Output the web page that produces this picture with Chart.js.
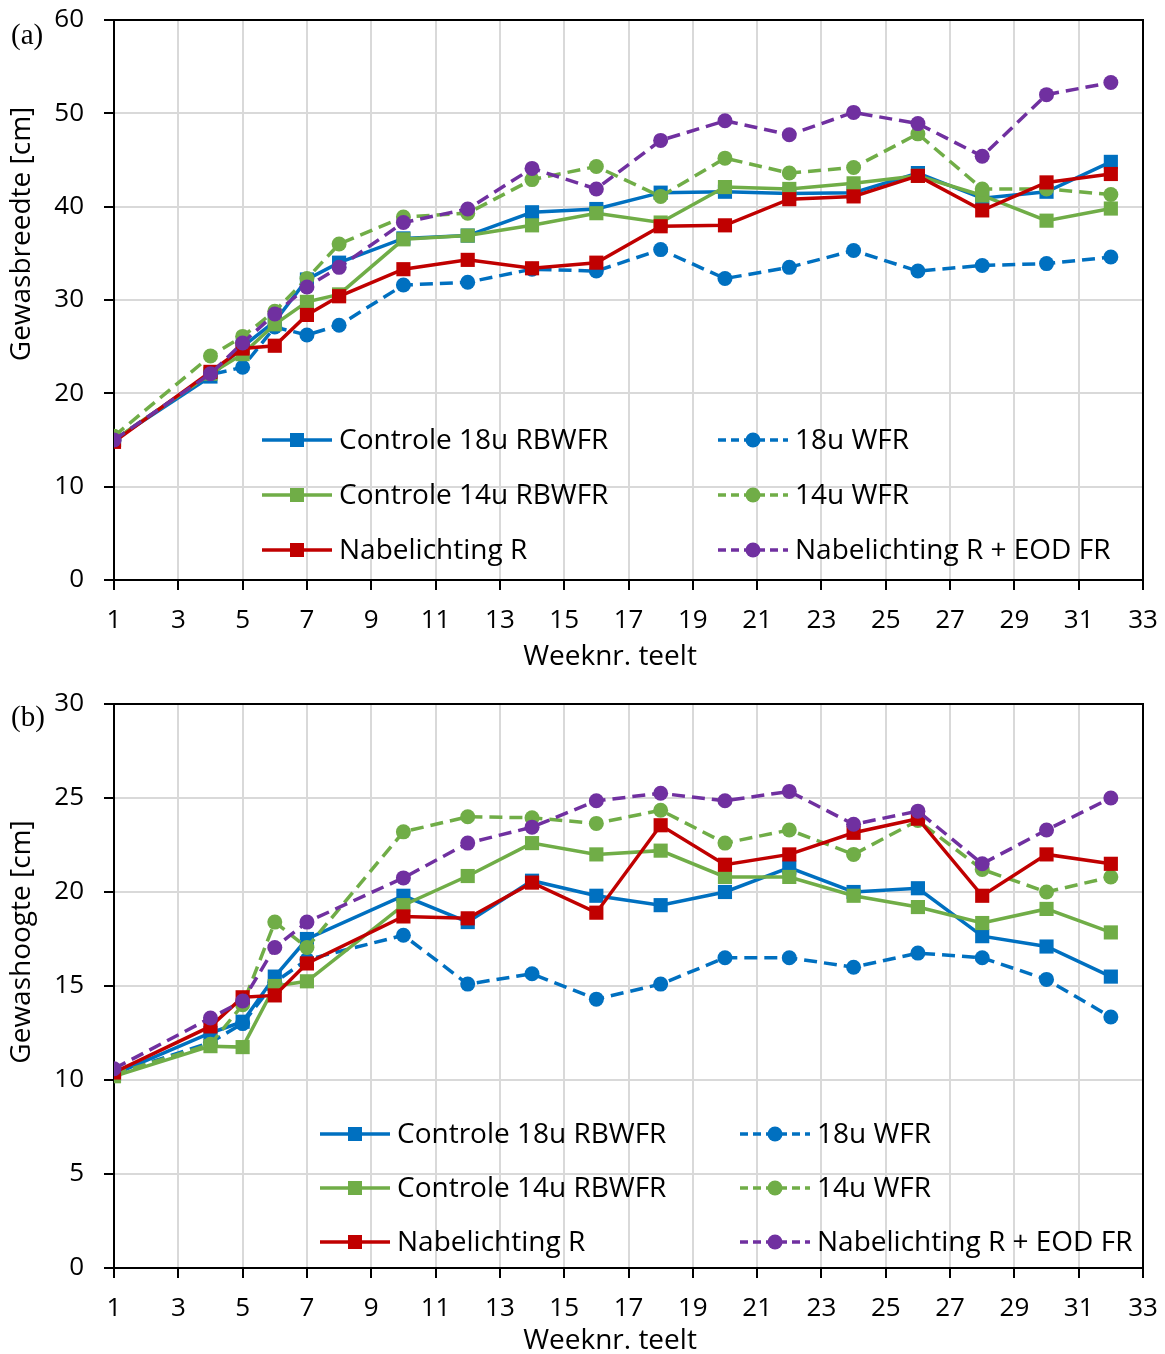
<!DOCTYPE html>
<html>
<head>
<meta charset="utf-8">
<script src="https://cdn.jsdelivr.net/npm/chart.js@4.4.1/dist/chart.umd.min.js"></script>
<style>
  html, body { margin: 0; padding: 0; background: #fff; overflow: hidden; }
  canvas { position: absolute; left: 0; }
  #chartA { top: 0; }
  #chartB { top: 680px; }
</style>
</head>
<body>
<canvas id="chartA" width="1165" height="680"></canvas>
<canvas id="chartB" width="1165" height="674"></canvas>
<script>
// Reeksen (volgorde zoals in de legenda)
const seriesNames = ['Controle 18u RBWFR', '18u WFR', 'Controle 14u RBWFR', '14u WFR', 'Nabelichting R', 'Nabelichting R + EOD FR'];

// (a) Gewasbreedte
const weeksA = [1, 4, 5, 6, 7, 8, 10, 12, 14, 16, 18, 20, 22, 24, 26, 28, 30, 32];
const ctrl18A = [15.0, 21.8, 25.0, 27.7, 32.2, 34.0, 36.6, 36.9, 39.4, 39.75, 41.5, 41.6, 41.4, 41.5, 43.6, 40.9, 41.6, 44.8];
const wfr18A  = [15.0, 22.0, 22.8, 27.1, 26.25, 27.3, 31.6, 31.9, 33.3, 33.1, 35.4, 32.3, 33.5, 35.3, 33.1, 33.7, 33.9, 34.6];
const ctrl14A = [15.0, 22.1, 24.2, 27.4, 29.8, 30.6, 36.5, 36.9, 38.0, 39.3, 38.3, 42.1, 41.9, 42.5, 43.3, 41.2, 38.5, 39.8];
const wfr14A  = [15.4, 24.0, 26.1, 28.8, 32.3, 36.0, 38.9, 39.3, 42.9, 44.3, 41.1, 45.2, 43.6, 44.2, 47.8, 41.9, 41.9, 41.3];
const nabR_A  = [14.8, 22.3, 24.8, 25.1, 28.4, 30.4, 33.3, 34.3, 33.4, 34.0, 37.9, 38.0, 40.8, 41.1, 43.3, 39.6, 42.6, 43.5];
const nabEOD_A = [15.0, 22.1, 25.4, 28.5, 31.4, 33.5, 38.3, 39.75, 44.1, 41.9, 47.1, 49.2, 47.7, 50.1, 48.9, 45.4, 52.0, 53.3];

// (b) Gewashoogte
const weeksB = [1, 4, 5, 6, 7, 10, 12, 14, 16, 18, 20, 22, 24, 26, 28, 30, 32];
const ctrl18B = [10.3, 12.5, 13.1, 15.5, 17.5, 19.8, 18.4, 20.6, 19.8, 19.3, 20.0, 21.3, 20.0, 20.2, 17.65, 17.1, 15.5];
const wfr18B  = [10.3, 12.0, 13.0, 15.2, 16.4, 17.7, 15.1, 15.65, 14.3, 15.1, 16.5, 16.5, 16.0, 16.75, 16.5, 15.35, 13.35];
const ctrl14B = [10.2, 11.8, 11.75, 15.0, 15.25, 19.3, 20.85, 22.6, 22.0, 22.2, 20.8, 20.8, 19.8, 19.2, 18.35, 19.1, 17.85];
const wfr14B  = [10.3, 11.9, 14.0, 18.4, 17.05, 23.2, 24.0, 23.95, 23.65, 24.35, 22.6, 23.3, 22.0, 23.8, 21.2, 20.0, 20.8];
const nabR_B  = [10.4, 12.85, 14.4, 14.5, 16.2, 18.7, 18.6, 20.5, 18.9, 23.55, 21.45, 22.0, 23.15, 23.9, 19.8, 22.0, 21.5];
const nabEOD_B = [10.6, 13.3, 14.2, 17.05, 18.4, 20.75, 22.6, 23.45, 24.85, 25.25, 24.85, 25.35, 23.6, 24.3, 21.5, 23.3, 25.0];

// stijl per reeks
const seriesColors = ['#0070C0', '#0070C0', '#70AD47', '#70AD47', '#C00000', '#7030A0'];
const seriesDashed = [false, true, false, true, false, true];
const seriesMarker = ['rect', 'circle', 'rect', 'circle', 'rect', 'circle'];

Chart.defaults.font.family = '"Open Sans", sans-serif';
Chart.defaults.color = '#000';

function makeDatasets(weeks, lists) {
    return lists.map((vals, i) => ({
        label: seriesNames[i],
        data: weeks.map((w, j) => ({ x: w, y: vals[j] })),
        borderColor: seriesColors[i],
        backgroundColor: seriesColors[i],
        borderWidth: 3.5,
        borderDash: seriesDashed[i] ? [13, 7] : [],
        pointStyle: seriesMarker[i],
        pointRadius: seriesMarker[i] === 'rect' ? 10 : 7.5,
        pointBorderWidth: 0,
        pointHoverRadius: 0,
        tension: 0,
        order: lists.length - i   // laatste reeks bovenop, zoals in Excel
    }));
}

// legenda binnen het plotgebied, 2 kolommen
const insideLegend = {
    id: 'insideLegend',
    afterDatasetsDraw(chart, args, opts) {
        const ctx = chart.ctx;
        ctx.save();
        ctx.font = opts.fontSize + 'px "Open Sans"';
        ctx.textBaseline = 'middle';
        chart.data.datasets.forEach((ds, i) => {
            const x0 = opts.cols[i % 2];
            const y = opts.rows[Math.floor(i / 2)];
            ctx.strokeStyle = ds.borderColor;
            ctx.fillStyle = ds.borderColor;
            ctx.lineWidth = 3.5;
            ctx.setLineDash(seriesDashed[i] ? [8, 5] : []);
            ctx.beginPath();
            ctx.moveTo(x0, y);
            ctx.lineTo(x0 + 70, y);
            ctx.stroke();
            ctx.setLineDash([]);
            const mx = x0 + 35;
            if (seriesMarker[i] === 'rect') {
                ctx.fillRect(mx - 7, y - 7, 14, 14);
            } else {
                ctx.beginPath();
                ctx.arc(mx, y, 7.5, 0, Math.PI * 2);
                ctx.fill();
            }
            ctx.fillStyle = '#000';
            ctx.textAlign = 'left';
            ctx.fillText(ds.label, x0 + 77, y + 1);
        });
        ctx.restore();
    }
};

// kader boven/rechts, paneellabel en astitels
const frame = {
    id: 'frame',
    afterDraw(chart, args, opts) {
        const { ctx, chartArea: a } = chart;
        ctx.save();
        ctx.strokeStyle = '#000';
        ctx.lineWidth = 2;
        ctx.beginPath();
        ctx.moveTo(a.left, a.top);
        ctx.lineTo(a.right, a.top);
        ctx.lineTo(a.right, a.bottom);
        ctx.stroke();

        ctx.fillStyle = '#000';
        ctx.font = '29px "Liberation Serif", serif';
        ctx.textAlign = 'left';
        ctx.textBaseline = 'middle';
        ctx.fillText(opts.panel, 11, opts.panelY);

        ctx.font = '28px "Open Sans"';
        ctx.textAlign = 'center';
        ctx.fillText(opts.xTitle, opts.xTitleX, opts.xTitleY);

        ctx.translate(22, opts.yTitleY);
        ctx.rotate(-Math.PI / 2);
        ctx.fillText(opts.yTitle, 0, 0);
        ctx.restore();
    }
};

function renderPanel(id, weeks, lists, yMax, yStep, cfg) {
    const ctx = document.getElementById(id);
    return new Chart(ctx, {
        type: 'line',
        data: { datasets: makeDatasets(weeks, lists) },
        options: {
            responsive: false,
            animation: false,
            events: [],
            layout: { padding: { top: cfg.padTop, right: 22, left: 0, bottom: 0 } },
            plugins: {
                legend: { display: false },
                tooltip: { enabled: false },
                insideLegend: { fontSize: 28, cols: cfg.legendCols, rows: cfg.legendRows },
                frame: {
                    panel: cfg.panel, panelY: cfg.panelY,
                    yTitle: cfg.yTitle, yTitleY: cfg.yTitleY,
                    xTitle: 'Weeknr. teelt', xTitleX: 610, xTitleY: cfg.xTitleY
                }
            },
            scales: {
                x: {
                    type: 'linear',
                    min: 1, max: 33,
                    afterFit: s => { s.height = cfg.xHeight; s.paddingLeft = 0; s.paddingRight = 0; },
                    ticks: { stepSize: 2, padding: 15, font: { size: 26 }, maxRotation: 0 },
                    grid: { color: '#d9d9d9', lineWidth: 2, tickLength: 10, tickColor: '#000', tickWidth: 2 },
                    border: { color: '#000', width: 2 }
                },
                y: {
                    min: 0, max: yMax,
                    afterFit: s => { s.width = 114; s.paddingTop = 0; s.paddingBottom = 0; },
                    ticks: { stepSize: yStep, padding: 20, font: { size: 26 } },
                    grid: { color: '#d9d9d9', lineWidth: 2, tickLength: 10, tickColor: '#000', tickWidth: 2 },
                    border: { color: '#000', width: 2 }
                }
            }
        },
        plugins: [insideLegend, frame]
    });
}

renderPanel('chartA', weeksA, [ctrl18A, wfr18A, ctrl14A, wfr14A, nabR_A, nabEOD_A], 60, 10, {
    padTop: 20, xHeight: 100,
    legendCols: [262, 718], legendRows: [440, 495, 550],
    panel: '(a)', panelY: 36, yTitle: 'Gewasbreedte [cm]', yTitleY: 234, xTitleY: 657
});

renderPanel('chartB', weeksB, [ctrl18B, wfr18B, ctrl14B, wfr14B, nabR_B, nabEOD_B], 30, 5, {
    padTop: 24, xHeight: 86,
    legendCols: [320, 740], legendRows: [454, 508, 562],
    panel: '(b)', panelY: 38, yTitle: 'Gewashoogte [cm]', yTitleY: 262, xTitleY: 661
});
</script>
</body>
</html>
